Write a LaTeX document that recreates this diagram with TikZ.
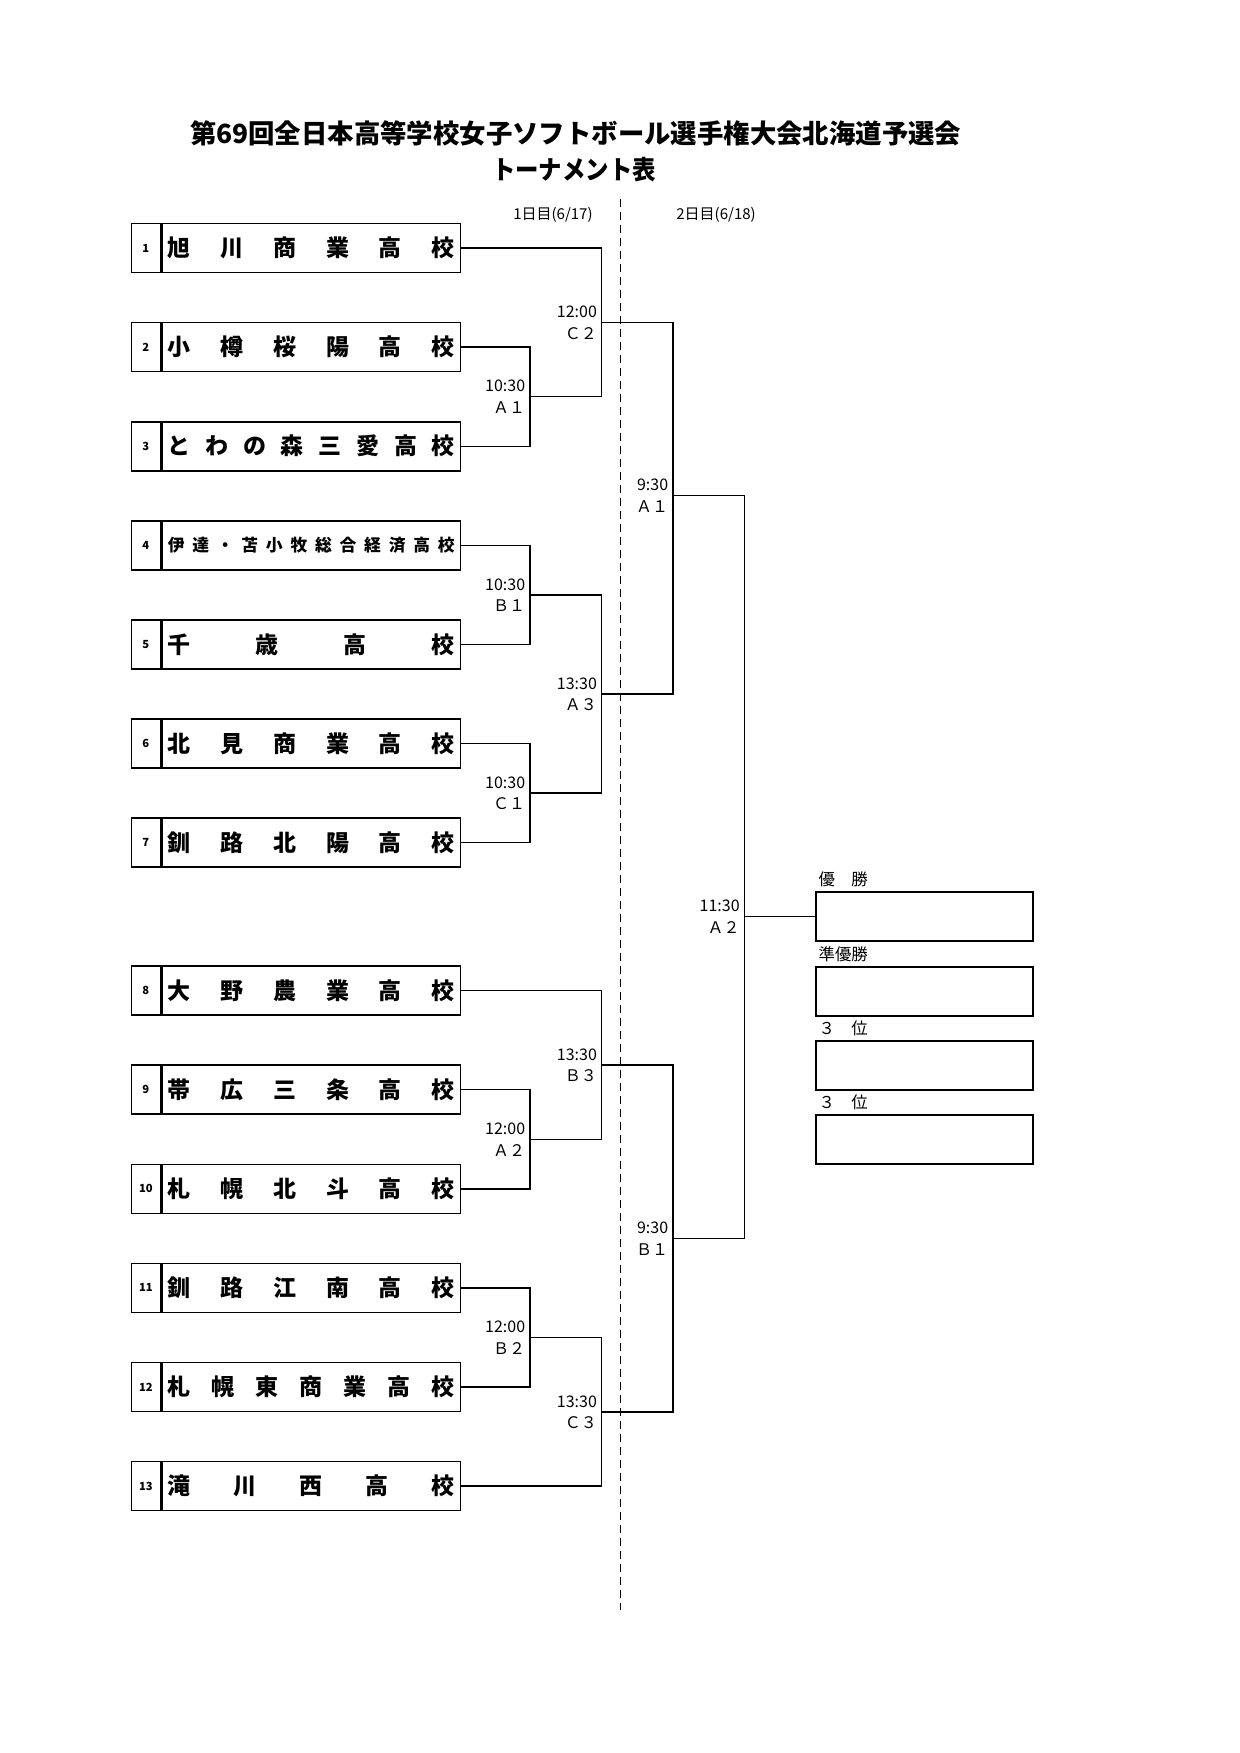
\documentclass[tikz,border=0pt]{standalone}
\usepackage{fontspec}
\setmainfont{Noto Sans CJK JP}
\usetikzlibrary{positioning, calc}
\newcommand{\smallname}{\fontsize{8.4}{9}\selectfont}
\tikzset{
    num/.style={draw, line width=0.8pt, minimum width=14.4pt, minimum height=24.5pt, inner sep=0pt, font=\bfseries\fontsize{5.6}{6}\selectfont},
    team/.style={draw, line width=0.8pt, minimum width=149.35pt, minimum height=24.5pt, inner sep=0pt, anchor=west, font=\bfseries\fontsize{11.5}{12}\selectfont},
    rank/.style={draw, line width=0.8pt, minimum width=108.5pt, minimum height=24.5pt, inner sep=0pt},
    rank label/.style={anchor=west, inner sep=0pt, font=\fontsize{8.2}{9}\selectfont},
    time/.style={anchor=east, xshift=-2.2pt, yshift=5.25pt, inner sep=0pt, font=\fontsize{8}{9}\selectfont},
    code/.style={anchor=east, xshift=-2.2pt, yshift=-5.5pt, inner sep=0pt, font=\fontsize{8}{9}\selectfont},
    day/.style={inner sep=0pt, font=\fontsize{7.5}{8}\selectfont},
    bracket/.style={line width=0.7pt}
}

\begin{document}
\begin{tikzpicture}[x=0.5pt, y=-0.5pt]
        \useasboundingbox (0,0) rectangle (1240,1753);
        %Title
        \node[font=\bfseries\fontsize{13.2}{15}\selectfont] (title) at (575.7,133) {第69回全日本高等学校女子ソフトボール選手権大会北海道予選会};
        \node[font=\bfseries\fontsize{13}{15}\selectfont, xscale=0.9] (subtitle) at (574,170) {トーナメント表};
        %Days
        \node[day, anchor=east] (day1) at (593,215) {1日目(6/17)};
        \node[day, anchor=west] (day2) at (676,215) {2日目(6/18)};
        \coordinate (cutN) at (620,199); \coordinate (cutS) at (620,1610);
        \draw[line width=0.5pt, dash pattern=on 4pt off 2.5pt] (cutN) -- (cutS);
        %Teams
        \foreach \i/\y/\nm in {
            1/248/{旭\hfill 川\hfill 商\hfill 業\hfill 高\hfill 校},
            2/347.1/{小\hfill 樽\hfill 桜\hfill 陽\hfill 高\hfill 校},
            3/446.2/{と\hfill わ\hfill の\hfill 森\hfill 三\hfill 愛\hfill 高\hfill 校},
            4/545.3/{\smallname 伊\hfill 達\hfill ・\hfill 苫\hfill 小\hfill 牧\hfill 総\hfill 合\hfill 経\hfill 済\hfill 高\hfill 校},
            5/644.4/{千\hfill 歳\hfill 高\hfill 校},
            6/743.5/{北\hfill 見\hfill 商\hfill 業\hfill 高\hfill 校},
            7/842.6/{釧\hfill 路\hfill 北\hfill 陽\hfill 高\hfill 校},
            8/990.6/{大\hfill 野\hfill 農\hfill 業\hfill 高\hfill 校},
            9/1089.7/{帯\hfill 広\hfill 三\hfill 条\hfill 高\hfill 校},
            10/1188.8/{札\hfill 幌\hfill 北\hfill 斗\hfill 高\hfill 校},
            11/1287.9/{釧\hfill 路\hfill 江\hfill 南\hfill 高\hfill 校},
            12/1387/{札\hfill 幌\hfill 東\hfill 商\hfill 業\hfill 高\hfill 校},
            13/1486.1/{滝\hfill 川\hfill 西\hfill 高\hfill 校}}{
            \node[num] (n\i) at (145.9,\y) {\i};
            \node[team] (t\i) at (n\i.east) {\hbox to 143.5pt{\nm}};
        }
        %Match points
        \coordinate (d1A1) at (530,396.65);
        \coordinate (d1B1) at (530,594.85);
        \coordinate (d1C1) at (530,793.05);
        \coordinate (d1A2) at (530,1139.25);
        \coordinate (d1B2) at (530,1337.45);
        \coordinate (d1C2) at (601.7,322.35);
        \coordinate (d1A3) at (601.7,693.95);
        \coordinate (d1B3) at (601.7,1064.9);
        \coordinate (d1C3) at (601.7,1411.8);
        \coordinate (d2A1) at (673,495.7);
        \coordinate (d2B1) at (673,1238.35);
        \coordinate (d2A2) at (744.5,916.7);
        %Brackets
        \foreach \m/\a/\b in {d1A1/t2.east/t3.east, d1B1/t4.east/t5.east, d1C1/t6.east/t7.east,
            d1A2/t9.east/t10.east, d1B2/t11.east/t12.east, d1C2/t1.east/d1A1, d1A3/d1B1/d1C1,
            d1B3/t8.east/d1A2, d1C3/d1B2/t13.east, d2A1/d1C2/d1A3, d2B1/d1B3/d1C3, d2A2/d2A1/d2B1}{
            \draw[bracket] (\a) -| (\m) |- (\b);
        }
        \foreach \m/\t/\c in {d1A1/10:30/Ａ１, d1B1/10:30/Ｂ１, d1C1/10:30/Ｃ１, d1A2/12:00/Ａ２,
            d1B2/12:00/Ｂ２, d1C2/12:00/Ｃ２, d1A3/13:30/Ａ３, d1B3/13:30/Ｂ３, d1C3/13:30/Ｃ３,
            d2A1/9:30/Ａ１, d2B1/9:30/Ｂ１, d2A2/11:30/Ａ２}{
            \node[time] (\m-t) at (\m) {\t};
            \node[code] (\m-c) at (\m) {\c};
        }
        %Ranks
        \foreach \r/\y/\lb in {win/916.7/優　勝, second/991.2/準優勝, thirdA/1065.4/３　位, thirdB/1139.6/３　位}{
            \node[rank] (\r) at (924.5,\y) {};
            \node[rank label] (\r-l) at ([xshift=1.5pt, yshift=5.9pt]\r.north west) {\lb};
        }
        \draw[bracket] (d2A2) -- (win.west);
    \end{tikzpicture}
\end{document}
